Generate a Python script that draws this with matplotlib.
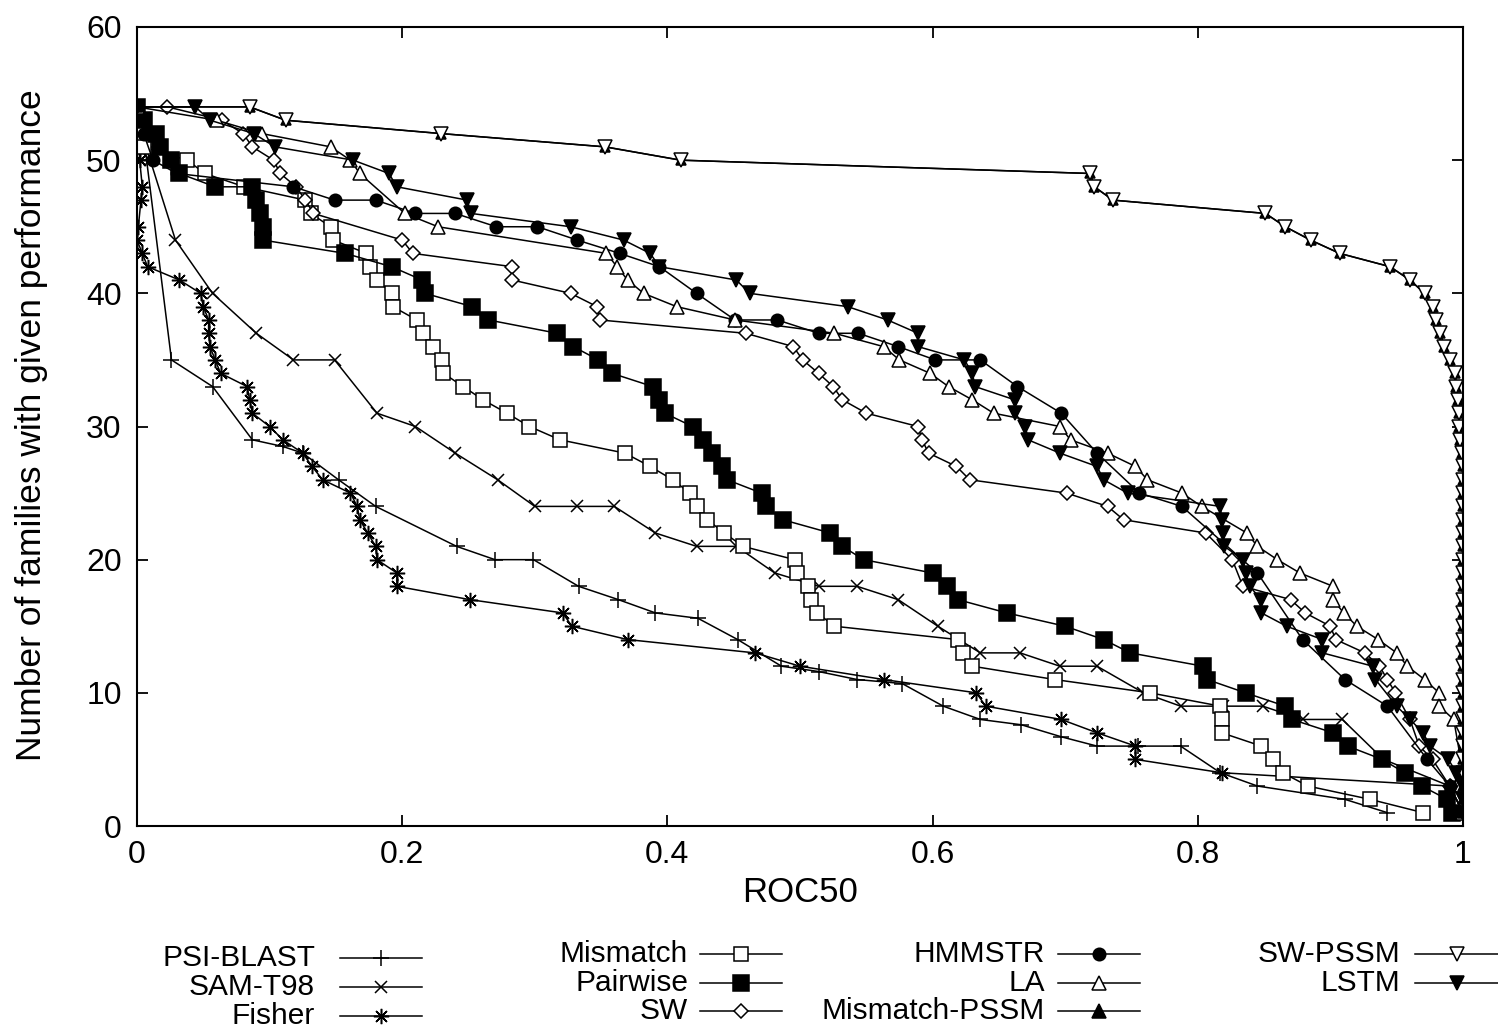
import matplotlib
matplotlib.use("Agg")
import matplotlib.pyplot as plt
from matplotlib.lines import Line2D

plt.rcParams['font.family'] = ['Liberation Sans', 'DejaVu Sans']

# ---------------- data (ROC50 value, number of families) ----------------
psi_x = [0, 0.003, 0.006, 0.026, 0.057, 0.087, 0.11, 0.125, 0.152, 0.18, 0.241, 0.27, 0.299,
         0.333, 0.363, 0.391, 0.423, 0.453, 0.486, 0.514, 0.543, 0.577, 0.608, 0.636, 0.667,
         0.697, 0.724, 0.755, 0.787, 0.817, 0.845, 0.911, 0.943]
psi_y = [54, 52, 51, 35, 33, 29, 28.5, 28, 26, 24, 21, 20, 20, 18, 17, 16, 15.6, 14, 12, 11.6,
         11, 10.7, 9, 8, 7.6, 6.7, 6, 6, 6, 4, 3, 2, 1]

sam_x = [0, 0.003, 0.01, 0.029, 0.057, 0.09, 0.118, 0.149, 0.181, 0.21, 0.24, 0.272, 0.3, 0.332,
         0.36, 0.391, 0.422, 0.452, 0.481, 0.514, 0.543, 0.574, 0.604, 0.636, 0.666, 0.696,
         0.724, 0.759, 0.787, 0.819, 0.849, 0.879, 0.909, 0.94, 0.99, 1.0]
sam_y = [54, 52, 50, 44, 40, 37, 35, 35, 31, 30, 28, 26, 24, 24, 24, 22, 21, 21, 19, 18, 18, 17,
         15, 13, 13, 12, 12, 10, 9, 9, 9, 8, 8, 5, 3, 1]

fisher_x = [0, 0.001, 0.002, 0.004, 0.003, 0.001, 0, 0.004, 0.008, 0.032, 0.048, 0.05, 0.054,
            0.054, 0.055, 0.059, 0.063, 0.083, 0.085, 0.087, 0.1, 0.11, 0.125, 0.132, 0.14,
            0.161, 0.166, 0.168, 0.174, 0.18, 0.181, 0.196, 0.196, 0.251, 0.321, 0.328, 0.37,
            0.466, 0.5, 0.563, 0.633, 0.64, 0.697, 0.724, 0.753, 0.753, 0.818, 0.99, 1.0]
fisher_y = [54, 52, 50, 48, 47, 45, 44, 43, 42, 41, 40, 39, 38, 37, 36, 35, 34, 33, 32, 31, 30,
            29, 28, 27, 26, 25, 24, 23, 22, 21, 20, 19, 18, 17, 16, 15, 14, 13, 12, 11, 10, 9,
            8, 7, 6, 5, 4, 3, 1]

mism_x = [0, 0.003, 0.005, 0.038, 0.051, 0.081, 0.127, 0.131, 0.146, 0.148, 0.173, 0.176, 0.181,
          0.192, 0.193, 0.211, 0.216, 0.223, 0.23, 0.231, 0.246, 0.261, 0.279, 0.296, 0.319,
          0.368, 0.387, 0.404, 0.417, 0.422, 0.43, 0.443, 0.457, 0.496, 0.498, 0.506, 0.508,
          0.513, 0.526, 0.619, 0.623, 0.63, 0.692, 0.764, 0.817, 0.818, 0.818, 0.848, 0.857,
          0.864, 0.883, 0.93, 0.97]
mism_y = [54, 52, 51, 50, 49, 48, 47, 46, 45, 44, 43, 42, 41, 40, 39, 38, 37, 36, 35, 34, 33, 32,
          31, 30, 29, 28, 27, 26, 25, 24, 23, 22, 21, 20, 19, 18, 17, 16, 15, 14, 13, 12, 11, 10,
          9, 8, 7, 6, 5, 4, 3, 2, 1]

pair_x = [0, 0.005, 0.014, 0.017, 0.026, 0.032, 0.059, 0.087, 0.09, 0.093, 0.095, 0.095, 0.157,
          0.192, 0.215, 0.217, 0.253, 0.265, 0.317, 0.329, 0.348, 0.358, 0.389, 0.394, 0.398,
          0.419, 0.427, 0.434, 0.441, 0.445, 0.471, 0.474, 0.487, 0.523, 0.532, 0.548, 0.6,
          0.611, 0.619, 0.656, 0.7, 0.729, 0.749, 0.804, 0.807, 0.836, 0.866, 0.871, 0.902,
          0.913, 0.939, 0.956, 0.969, 0.988, 0.992]
pair_y = [54, 53, 52, 51, 50, 49, 48, 48, 47, 46, 45, 44, 43, 42, 41, 40, 39, 38, 37, 36, 35, 34,
          33, 32, 31, 30, 29, 28, 27, 26, 25, 24, 23, 22, 21, 20, 19, 18, 17, 16, 15, 14, 13, 12,
          11, 10, 9, 8, 7, 6, 5, 4, 3, 2, 1]

sw_x = [0, 0.023, 0.064, 0.08, 0.087, 0.103, 0.108, 0.12, 0.127, 0.133, 0.2, 0.208, 0.283, 0.283,
        0.327, 0.347, 0.349, 0.459, 0.495, 0.502, 0.514, 0.525, 0.532, 0.55, 0.589, 0.592, 0.597,
        0.618, 0.628, 0.701, 0.732, 0.744, 0.806, 0.826, 0.834, 0.87, 0.881, 0.9, 0.904, 0.926,
        0.937, 0.943, 0.949, 0.96, 0.967, 0.977, 0.99, 1.0]
sw_y = [54, 54, 53, 52, 51, 50, 49, 48, 47, 46, 44, 43, 42, 41, 40, 39, 38, 37, 36, 35, 34, 33,
        32, 31, 30, 29, 28, 27, 26, 25, 24, 23, 22, 20, 18, 17, 16, 15, 14, 13, 12, 11, 10, 8,
        6, 5, 3, 1]

hmm_x = [0, 0.005, 0.012, 0.03, 0.118, 0.149, 0.18, 0.21, 0.24, 0.271, 0.302, 0.332, 0.364,
         0.394, 0.422, 0.451, 0.483, 0.514, 0.544, 0.574, 0.602, 0.636, 0.664, 0.697, 0.724,
         0.756, 0.788, 0.845, 0.879, 0.911, 0.943, 0.973, 0.99, 1.0]
hmm_y = [54, 52, 50, 49, 48, 47, 47, 46, 46, 45, 45, 44, 43, 42, 40, 38, 38, 37, 37, 36, 35, 35,
         33, 31, 28, 25, 24, 19, 14, 11, 9, 5, 3, 1]

la_x = [0, 0.06, 0.094, 0.146, 0.161, 0.168, 0.202, 0.227, 0.354, 0.362, 0.37, 0.382, 0.407,
        0.451, 0.526, 0.563, 0.575, 0.598, 0.612, 0.63, 0.646, 0.696, 0.704, 0.732, 0.753,
        0.762, 0.788, 0.803, 0.837, 0.845, 0.86, 0.877, 0.902, 0.902, 0.91, 0.92, 0.936, 0.95,
        0.958, 0.971, 0.982, 0.982, 0.993, 1.0, 1.0]
la_y = [54, 53, 52, 51, 50, 49, 46, 45, 43, 42, 41, 40, 39, 38, 37, 36, 35, 34, 33, 32, 31, 30,
        29, 28, 27, 26, 25, 24, 22, 21, 20, 19, 18, 17, 16, 15, 14, 13, 12, 11, 10, 9, 8, 4, 1]

mpssm_x = [0, 0.085, 0.112, 0.229, 0.353, 0.41, 0.719, 0.722, 0.736, 0.851, 0.866, 0.885, 0.907,
           0.945, 0.96, 0.971, 0.977, 0.98, 0.983, 0.986, 0.99, 0.994, 0.995, 0.996, 0.997,
           0.997, 0.998, 0.999, 1.0, 1.0, 1.0, 1.0, 1.0, 1.0, 1.0, 1.0, 1.0, 1.0, 1.0, 1.0, 1.0,
           1.0, 1.0, 1.0, 1.0, 1.0, 1.0, 1.0, 1.0, 1.0, 1.0, 1.0, 1.0, 1.0, 1.0]
mpssm_y = [54, 54, 53, 52, 51, 50, 49, 48, 47, 46, 45, 44, 43, 42, 41, 40, 39, 38, 37, 36, 35,
           34, 33, 32, 31, 30, 29, 28, 27, 26, 25, 24, 23, 22, 21, 20, 19, 18, 17, 16, 15, 14,
           13, 12, 11, 10, 9, 8, 7, 6, 5, 4, 3, 2, 1]

swpssm_x = [0, 0.085, 0.112, 0.229, 0.353, 0.41, 0.719, 0.722, 0.736, 0.851, 0.866, 0.885, 0.907,
            0.945, 0.96, 0.971, 0.977, 0.98, 0.983, 0.986, 0.99, 0.994, 0.995, 0.996, 0.997,
            0.997, 0.998, 0.999, 1.0, 1.0, 1.0, 1.0, 1.0, 1.0, 1.0, 1.0, 1.0, 1.0, 1.0, 1.0, 1.0,
            1.0, 1.0, 1.0, 1.0, 1.0, 1.0, 1.0, 1.0, 1.0, 1.0, 1.0, 1.0, 1.0, 1.0]
swpssm_y = [54, 54, 53, 52, 51, 50, 49, 48, 47, 46, 45, 44, 43, 42, 41, 40, 39, 38, 37, 36, 35,
            34, 33, 32, 31, 30, 29, 28, 27, 26, 25, 24, 23, 22, 21, 20, 19, 18, 17, 16, 15, 14,
            13, 12, 11, 10, 9, 8, 7, 6, 5, 4, 3, 2, 1]

lstm_x = [0, 0.044, 0.055, 0.088, 0.104, 0.163, 0.19, 0.196, 0.249, 0.252, 0.327, 0.367, 0.387,
          0.394, 0.452, 0.462, 0.536, 0.566, 0.589, 0.589, 0.624, 0.63, 0.632, 0.662, 0.662, 0.67,
          0.672, 0.696, 0.724, 0.729, 0.747, 0.817, 0.818, 0.819, 0.82, 0.834, 0.836, 0.839,
          0.848, 0.848, 0.867, 0.894, 0.894, 0.932, 0.934, 0.95, 0.96, 0.97, 0.975, 0.989,
          0.995, 1.0, 1.0, 1.0]
lstm_y = [54, 54, 53, 52, 51, 50, 49, 48, 47, 46, 45, 44, 43, 42, 41, 40, 39, 38, 37, 36, 35, 34,
          33, 32, 31, 30, 29, 28, 27, 26, 25, 24, 23, 22, 21, 20, 19, 18, 17, 16, 15, 14, 13, 12,
          11, 9, 8, 7, 6, 5, 4, 3, 2, 1]

labels = ["PSI-BLAST", "SAM-T98", "Fisher", "Mismatch", "Pairwise", "SW",
          "HMMSTR", "LA", "Mismatch-PSSM", "SW-PSSM", "LSTM"]
series_x = [psi_x, sam_x, fisher_x, mism_x, pair_x, sw_x, hmm_x, la_x, mpssm_x, swpssm_x, lstm_x]
series_y = [psi_y, sam_y, fisher_y, mism_y, pair_y, sw_y, hmm_y, la_y, mpssm_y, swpssm_y, lstm_y]

x_ticks = [0, 0.2, 0.4, 0.6, 0.8, 1.0]
x_ticklabels = ["0", "0.2", "0.4", "0.6", "0.8", "1"]
y_ticks = [0, 10, 20, 30, 40, 50, 60]

# marker styles (marker, size in plot, size in key, filled)
styles = [
    ("+", 11, 11, True),
    ("x", 9, 9, True),
    ((8, 2, 0), 11, 11, True),
    ("s", 10, 10, False),
    ("s", 11, 11, True),
    ("D", 7, 7, False),
    ("o", 9, 9, True),
    ("^", 10, 10, False),
    ("^", 6.5, 10, True),
    ("v", 10, 10, False),
    ("v", 10, 10, True),
]

W, H = 1498, 1029
fig = plt.figure(figsize=(W / 100, H / 100), dpi=100)
ax = fig.add_axes([137 / W, (H - 826) / H, 1326 / W, 799 / H])

LW = 1.1
for xs, ys, lab, (mk, ms, _, filled) in zip(series_x, series_y, labels, styles):
    ax.plot(xs, ys, color="black", lw=LW, marker=mk, ms=ms,
            mfc="black" if filled else "white", mec="black", mew=1.1, label=lab)

ax.set_xlim(0, 1)
ax.set_ylim(0, 60)
ax.set_xticks(x_ticks)
ax.set_xticklabels(x_ticklabels)
ax.set_yticks(y_ticks)
ax.tick_params(direction="in", length=8, width=1.3, top=True, right=True,
               labelsize=23, pad=11)
ax.tick_params(axis="x", pad=10)
for sp in ax.spines.values():
    sp.set_linewidth(1.5)

fig.text(800 / W, 1 - 893 / H, "ROC50", ha="center", va="center", fontsize=25)
fig.text(32 / W, 1 - 425 / H, "Number of families with given performance",
         ha="center", va="center", rotation=90, fontsize=25.5)

# gnuplot-style legend
legend_pos = [
    (315, 340, 422, 958), (315, 340, 422, 987), (315, 340, 422, 1016),
    (688, 700, 782, 954), (688, 700, 782, 983), (688, 700, 782, 1011),
    (1045, 1058, 1140, 954), (1045, 1058, 1140, 983), (1045, 1058, 1140, 1011),
    (1400, 1415, 1498, 954), (1400, 1415, 1498, 983),
]
for lab, (mk, _, kms, filled), (tx, x1, x2, py) in zip(labels, styles, legend_pos):
    fy = 1 - py / H
    fig.text(tx / W, fy, lab, ha="right", va="center", fontsize=21.5)
    fig.add_artist(Line2D([x1 / W, x2 / W], [fy, fy], transform=fig.transFigure,
                          color="black", lw=LW))
    fig.add_artist(Line2D([(x1 + x2) / 2 / W], [fy], transform=fig.transFigure,
                          color="black", lw=0, marker=mk, ms=kms,
                          mfc="black" if filled else "white", mec="black", mew=1.1))

fig.savefig("out.png", dpi=100)
